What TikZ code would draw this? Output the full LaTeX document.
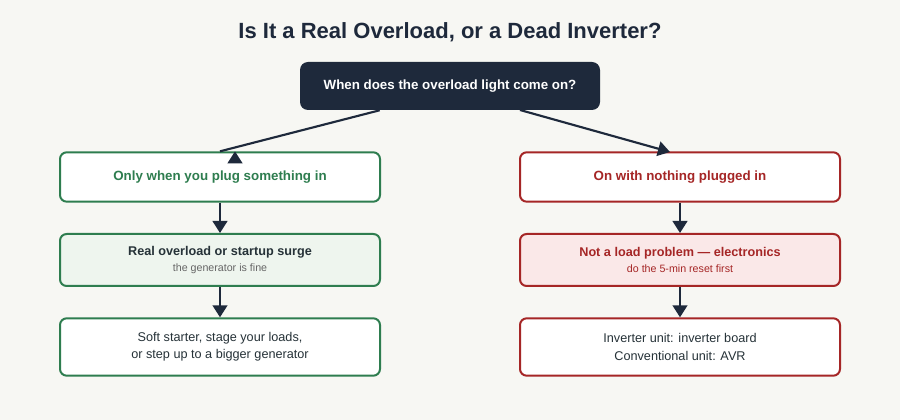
\documentclass[tikz,border=0pt]{standalone}
\usepackage{fontspec}
\setmainfont{Liberation Sans}
\usetikzlibrary{arrows.meta,positioning}
\definecolor{navy}{HTML}{1E293B}
\definecolor{okgreen}{HTML}{2E7D4F}
\definecolor{badred}{HTML}{A52626}
\definecolor{paleg}{HTML}{EEF5EE}
\definecolor{paler}{HTML}{FAE8E8}
\definecolor{bg}{HTML}{F7F7F3}
\definecolor{txt}{HTML}{263238}
\tikzset{
  box/.style={rounded corners=5pt, line width=1.5pt, minimum width=240pt, fill=white, align=center, font=\fontsize{9.5}{13}\selectfont},
  gbox/.style={box, draw=okgreen},
  rbox/.style={box, draw=badred},
  flow/.style={-{Triangle[length=9pt,width=11pt]}, line width=1.6pt, draw=navy}
}
\begin{document}
\begin{tikzpicture}[x=0.75pt,y=-0.75pt]
  \fill[bg] (0,0) rectangle (900,420);
  \useasboundingbox (0,0) rectangle (900,420);

  \node[text=navy, font=\bfseries\fontsize{16.5}{20}\selectfont] (title) at (450,32) {Is It a Real Overload, or a Dead Inverter?};

  \node[fill=navy, rounded corners=6pt, minimum width=225pt, minimum height=36pt, text=white, font=\bfseries\fontsize{10}{12}\selectfont] (q) at (450,86) {When does the overload light come on?};

  % left branch
  \node[gbox, minimum height=37pt, text=okgreen, font=\bfseries\fontsize{10}{12}\selectfont] (l1) at (220,177) {Only when you plug something in};
  \node[gbox, fill=paleg, minimum height=39pt] (l2) at (220,260) {\textbf{\color{txt}Real overload or startup surge}\\[-1pt]{\fontsize{8}{10}\selectfont\color{gray!80!black}the generator is fine}};
  \node[gbox, minimum height=43pt, text=txt] (l3) at (220,347) {Soft starter, stage your loads,\\or step up to a bigger generator};

  % right branch
  \node[rbox, minimum height=37pt, text=badred, font=\bfseries\fontsize{10}{12}\selectfont] (r1) at (680,177) {On with nothing plugged in};
  \node[rbox, fill=paler, minimum height=39pt, text=badred] (r2) at (680,260) {\textbf{Not a load problem — electronics}\\[-1pt]{\fontsize{8}{10}\selectfont do the 5-min reset first}};
  \node[rbox, minimum height=43pt, text=txt] (r3) at (680,347) {Inverter unit: inverter board\\Conventional unit: AVR};

  \draw[flow] (q.south west)++(80,0) coordinate (qa) -- (l1.north) ++(15,0);
  \coordinate (la) at (235,152);
  \coordinate (ra) at (670,152);
  \coordinate (qb) at (520,110);
  \draw[flow] (qb) -- (ra);
  \draw[flow] (l1) -- (l2);
  \draw[flow] (l2) -- (l3);
  \draw[flow] (r1) -- (r2);
  \draw[flow] (r2) -- (r3);
\end{tikzpicture}
\end{document}
